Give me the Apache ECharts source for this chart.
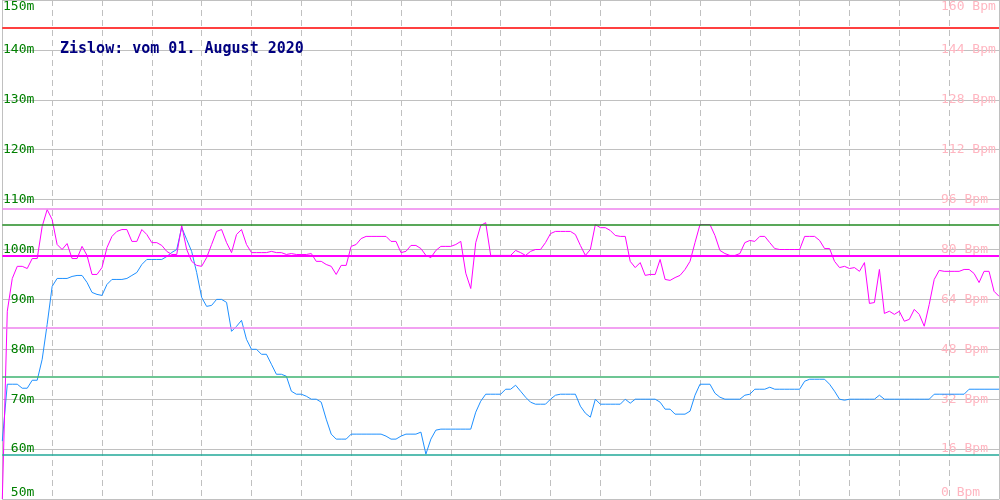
<!DOCTYPE html>
<html>
<head>
<meta charset="utf-8">
<script src="https://cdn.jsdelivr.net/npm/echarts@6/dist/echarts.min.js"></script>
<style>
html,body{margin:0;padding:0;background:#fff;}
#chart{width:1000px;height:500px;}
</style>
</head>
<body>
<div id="chart"></div>
<script>
// Title
var titleText = 'Zislow: vom 01. August 2020';

// Altitude (m), left axis, sampled uniformly over time
var altitude = [
  61.6, 73.0, 73.0, 73.0, 72.2, 72.2, 73.8, 73.8, 78.0, 85.0,
  92.6, 94.2, 94.2, 94.2, 94.6, 94.8, 94.8, 93.4, 91.4, 91.0,
  90.8, 93.0, 94.0, 94.0, 94.0, 94.2, 94.8, 95.4, 97.0, 98.0,
  98.0, 98.0, 98.0, 98.6, 99.4, 100.0, 104.4, 102.0, 99.6, 95.4,
  90.4, 88.6, 88.8, 90.0, 90.0, 89.4, 83.6, 84.6, 85.8, 82.0,
  80.0, 80.0, 79.0, 79.0, 77.0, 75.0, 75.0, 74.6, 71.6, 71.0,
  71.0, 70.6, 70.0, 70.0, 69.4, 66.0, 63.0, 62.0, 62.0, 62.0,
  63.0, 63.0, 63.0, 63.0, 63.0, 63.0, 63.0, 62.6, 62.0, 62.0,
  62.6, 63.0, 63.0, 63.0, 63.4, 59.0, 62.0, 63.8, 64.0, 64.0,
  64.0, 64.0, 64.0, 64.0, 64.0, 67.4, 69.6, 71.0, 71.0, 71.0,
  71.0, 72.0, 72.0, 72.8, 71.6, 70.4, 69.4, 69.0, 69.0, 69.0,
  70.0, 70.8, 71.0, 71.0, 71.0, 71.0, 68.6, 67.2, 66.4, 70.0,
  69.0, 69.0, 69.0, 69.0, 69.0, 70.0, 69.2, 70.0, 70.0, 70.0,
  70.0, 70.0, 69.4, 68.0, 68.0, 67.0, 67.0, 67.0, 67.6, 70.8,
  73.0, 73.0, 73.0, 71.2, 70.4, 70.0, 70.0, 70.0, 70.0, 70.8,
  71.0, 72.0, 72.0, 72.0, 72.4, 72.0, 72.0, 72.0, 72.0, 72.0,
  72.0, 73.6, 74.0, 74.0, 74.0, 74.0, 73.0, 71.6, 70.0, 69.8,
  70.0, 70.0, 70.0, 70.0, 70.0, 70.0, 70.8, 70.0, 70.0, 70.0,
  70.0, 70.0, 70.0, 70.0, 70.0, 70.0, 70.0, 71.0, 71.0, 71.0,
  71.0, 71.0, 71.0, 71.0, 72.0, 72.0, 72.0, 72.0, 72.0, 72.0,
  72.0
];

// Heart rate (Bpm), right axis
var heartRate = [
  0, 60.2, 70.7, 74.6, 74.6, 73.9, 77.1, 77.1, 87.4, 92.8,
  89.6, 81.6, 80.0, 81.9, 77.1, 77.1, 81.0, 78.1, 72.0, 72.0,
  74.2, 80.6, 84.2, 85.8, 86.4, 86.4, 82.6, 82.6, 86.4, 84.8,
  82.2, 82.2, 81.3, 79.4, 78.4, 78.4, 87.7, 80.0, 76.2, 74.9,
  74.6, 77.4, 81.6, 85.8, 86.4, 82.2, 79.0, 84.8, 86.4, 81.6,
  79.0, 79.0, 79.0, 79.0, 79.4, 79.0, 79.0, 78.4, 78.7, 78.4,
  78.4, 78.4, 78.7, 76.2, 76.2, 75.2, 74.6, 72.0, 74.9, 74.9,
  81.0, 81.6, 83.5, 84.2, 84.2, 84.2, 84.2, 84.2, 82.6, 82.6,
  79.0, 79.4, 81.3, 81.3, 80.3, 78.1, 77.4, 79.7, 81.0, 81.0,
  81.0, 81.6, 82.6, 72.4, 67.5, 82.2, 87.7, 88.6, 78.1, 78.1,
  78.1, 78.1, 78.1, 79.7, 79.0, 78.1, 79.4, 80.0, 80.0, 82.2,
  85.1, 85.8, 85.8, 85.8, 85.8, 84.8, 81.3, 78.1, 80.0, 88.0,
  87.0, 87.0, 86.1, 84.5, 84.2, 84.2, 76.2, 74.2, 75.8, 71.7,
  72.0, 72.0, 76.8, 70.4, 70.1, 71.0, 71.7, 73.6, 76.2, 82.2,
  88.0, 88.0, 88.0, 84.5, 79.7, 78.7, 78.1, 78.1, 78.7, 82.2,
  82.9, 82.6, 84.2, 84.2, 82.2, 80.3, 80.0, 80.0, 80.0, 80.0,
  80.0, 84.2, 84.2, 84.2, 82.9, 80.3, 80.3, 76.2, 74.2, 74.6,
  73.9, 74.2, 73.0, 75.8, 62.7, 63.0, 73.6, 59.5, 60.2, 59.2,
  60.2, 57.0, 57.6, 60.8, 59.2, 55.4, 62.4, 70.4, 73.3, 73.0,
  73.0, 73.0, 73.0, 73.6, 73.6, 72.3, 69.4, 73.0, 73.0, 66.6,
  65.0
];

// Reference levels
var altMax = 105.0, altAvg = 74.5, altMin = 58.9;   // metres
var hrLimit = 151, hrMax = 93, hrAvg = 78, hrMin = 55; // Bpm

// Axis ranges / ticks
var altAxis = {min: 50, max: 150, interval: 10, unit: 'm'};
var hrAxis = {min: 0, max: 160, interval: 16, unit: ' Bpm'};

var categories = altitude.map(function (_, i) { return i; });

var chart = echarts.init(document.getElementById('chart'), null, {renderer: 'canvas'});
var mono = "'DejaVu Sans Mono', monospace";

chart.setOption({
  animation: false,
  backgroundColor: '#ffffff',
  title: {
    text: titleText,
    left: 60, top: 42, padding: 0,
    textStyle: {fontFamily: mono, fontSize: 15, fontWeight: 'bold', color: '#000080'}
  },
  grid: {left: 0, right: 1, top: 0, bottom: 1, containLabel: false},
  xAxis: {
    type: 'category',
    data: categories,
    boundaryGap: false,
    axisLine: {show: false},
    axisTick: {show: false},
    axisLabel: {show: false},
    splitLine: {
      show: true,
      interval: function (idx) { return idx % 10 === 0 && idx > 0 && idx < 200; },
      lineStyle: {color: '#c0c0c0', type: [6, 4], width: 1}
    }
  },
  yAxis: [
    {
      type: 'value', position: 'left',
      min: altAxis.min, max: altAxis.max, interval: altAxis.interval,
      axisLine: {show: true, lineStyle: {color: '#c0c0c0'}},
      axisTick: {show: false},
      splitLine: {show: true, lineStyle: {color: '#c0c0c0', width: 1}},
      axisLabel: {
        inside: true, margin: 32, align: 'right',
        verticalAlignMinLabel: 'bottom', verticalAlignMaxLabel: 'top',
        formatter: '{value}' + altAxis.unit,
        color: '#008000', fontFamily: mono, fontSize: 13
      }
    },
    {
      type: 'value', position: 'right',
      min: hrAxis.min, max: hrAxis.max, interval: hrAxis.interval,
      axisLine: {show: true, lineStyle: {color: '#c0c0c0'}},
      axisTick: {show: false},
      splitLine: {show: false},
      axisLabel: {
        inside: true, margin: 58, align: 'left',
        verticalAlignMinLabel: 'bottom', verticalAlignMaxLabel: 'top',
        formatter: '{value}' + hrAxis.unit,
        color: '#ffb6c1', fontFamily: mono, fontSize: 13
      }
    }
  ],
  series: [
    {
      name: 'Höhe', type: 'line', yAxisIndex: 0, data: altitude,
      showSymbol: false, symbol: 'none',
      lineStyle: {color: '#1e90ff', width: 1}, z: 3,
      markLine: {
        silent: true, symbol: 'none', label: {show: false},
        data: [
          {yAxis: altMax, lineStyle: {color: '#228b22', width: 1.5, type: 'solid'}},
          {yAxis: altAvg, lineStyle: {color: '#3cb371', width: 1.5, type: 'solid'}},
          {yAxis: altMin, lineStyle: {color: '#20a898', width: 1.5, type: 'solid'}}
        ]
      }
    },
    {
      name: 'Puls', type: 'line', yAxisIndex: 1, data: heartRate,
      showSymbol: false, symbol: 'none',
      lineStyle: {color: '#ff00ff', width: 1}, z: 4,
      markLine: {
        silent: true, symbol: 'none', label: {show: false},
        data: [
          {yAxis: hrLimit, lineStyle: {color: '#ff0000', width: 1.5, type: 'solid'}},
          {yAxis: hrMax, lineStyle: {color: '#ee82ee', width: 1.5, type: 'solid'}},
          {yAxis: hrAvg, lineStyle: {color: '#ff00ff', width: 2, type: 'solid'}},
          {yAxis: hrMin, lineStyle: {color: '#ee82ee', width: 1.5, type: 'solid'}}
        ]
      }
    }
  ]
});
</script>
</body>
</html>
